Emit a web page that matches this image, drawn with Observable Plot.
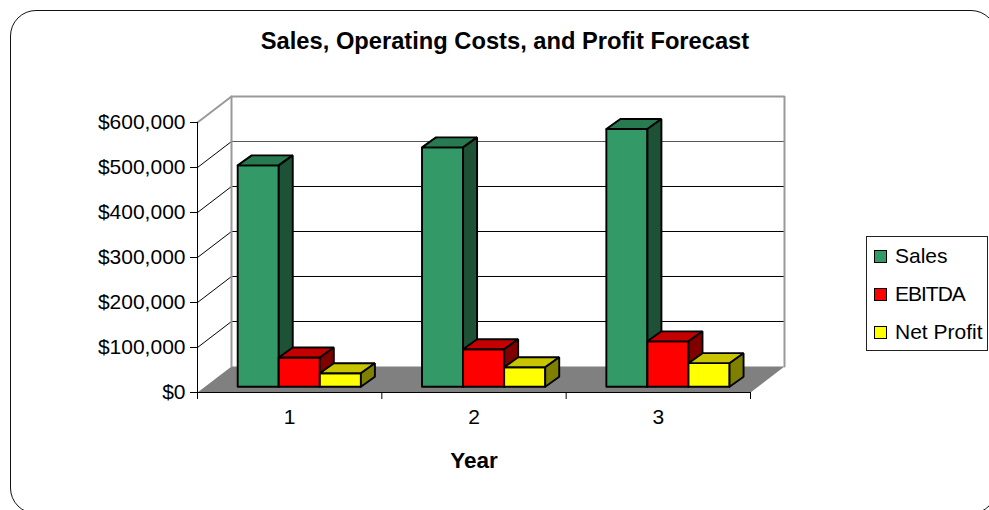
<!DOCTYPE html>
<html>
<head>
<meta charset="utf-8">
<script src="https://cdn.jsdelivr.net/npm/d3@7"></script>
<script src="https://cdn.jsdelivr.net/npm/@observablehq/plot@0.6"></script>
<style>
html,body{margin:0;padding:0;width:989px;height:510px;overflow:hidden;background:#fff;font-family:"Liberation Sans",Arial,sans-serif;color:#000}
#frame{position:absolute;left:10px;top:9.5px;width:987px;height:504px;border:1.7px solid #111;border-radius:26px;box-sizing:border-box}
#title{position:absolute;left:0;top:26px;width:1010px;text-align:center;font-size:23.7px;font-weight:bold;line-height:30px}
#legend{position:absolute;left:866px;top:236px;width:122px;height:115px;border:1px solid #222;box-sizing:border-box;background:#fff;font-size:21px}
.item{position:absolute;left:7px;height:24px;line-height:24px;white-space:nowrap}
.sw{position:absolute;left:0;top:6px;width:13px;height:13px;border:1.7px solid #000;box-sizing:border-box}
.lb{position:absolute;left:21px;top:0}
#chart{position:absolute;left:0;top:0}
</style>
</head>
<body>
<div id="frame"></div>
<div id="title"></div>
<div id="chart"></div>
<div id="legend"></div>
<script>
const titleText = "Sales, Operating Costs, and Profit Forecast";
const xTitle = "Year";
const years = [1, 2, 3];
const seriesNames = ["Sales", "EBITDA", "Net Profit"];
const sales = [492000, 532000, 573000];
const ebitda = [65000, 83500, 101000];
const netProfit = [30000, 43500, 52500];
const yTicks = [0, 100000, 200000, 300000, 400000, 500000, 600000];
const frontColors = ["#339966", "#ff0000", "#ffff00"];
const topColors = ["#287a51", "#c40000", "#c8c400"];
const sideColors = ["#1d5236", "#800000", "#808000"];

// Oblique depth of the chart box and of each bar, expressed in data units
const boxDepthX = 34 / 184.33, boxDepthY = 57800;
const barDepthX = 14 / 184.33, barDepthY = 22200;
const barStart = 0.218, barWidth = 0.2228, barBase = 12700;
const yMax = 600000, nCat = years.length;

const seriesValues = [sales, ebitda, netProfit];
const closed = (pts) => [...pts, pts[0]];
const poly = (pts, fill, stroke, strokeWidth) => Plot.line(closed(pts), {x: "0", y: "1", fill, stroke, strokeWidth, strokeLinejoin: "miter"});

const barMarks = years.flatMap((yr, i) =>
  seriesValues.flatMap((vals, s) => {
    const x0 = i + barStart + s * barWidth, x1 = x0 + barWidth;
    const y0 = barBase, y1 = barBase + vals[i];
    const dx = barDepthX, dy = barDepthY;
    return [
      poly([[x0, y0], [x1, y0], [x1, y1], [x0, y1]], frontColors[s], "#000", 1.9),
      poly([[x0, y1], [x1, y1], [x1 + dx, y1 + dy], [x0 + dx, y1 + dy]], topColors[s], "#000", 1.9),
      poly([[x1, y0], [x1 + dx, y0 + dy], [x1 + dx, y1 + dy], [x1, y1]], sideColors[s], "#000", 1.9)
    ];
  })
);

const chart = Plot.plot({
  width: 989,
  height: 510,
  marginLeft: 197,
  marginRight: 239,
  marginTop: 122,
  marginBottom: 118,
  style: {background: "none", fontFamily: "Liberation Sans, Arial, sans-serif", overflow: "visible"},
  x: {type: "linear", domain: [0, nCat]},
  y: {type: "linear", domain: [0, yMax]},
  marks: [
    // floor
    poly([[0, 0], [nCat, 0], [nCat + boxDepthX, boxDepthY], [boxDepthX, boxDepthY]], "#808080", "none", 0),
    // back wall gridlines
    Plot.ruleY(yTicks.slice(1, -1), {y: (d) => d + boxDepthY, x1: () => boxDepthX, x2: () => nCat + boxDepthX, stroke: (d) => d === 500000 ? "#555" : "#000", strokeWidth: 1}),
    // left wall gridlines
    Plot.link(yTicks.slice(1, -1), {x1: () => 0, y1: (d) => d, x2: () => boxDepthX, y2: (d) => d + boxDepthY, stroke: "#000", strokeWidth: 1}),
    // wall outlines
    Plot.line([[0, yMax], [boxDepthX, yMax + boxDepthY], [nCat + boxDepthX, yMax + boxDepthY], [nCat + boxDepthX, boxDepthY]], {x: "0", y: "1", stroke: "#999", strokeWidth: 2, strokeLinejoin: "miter"}),
    Plot.line([[boxDepthX, yMax + boxDepthY], [boxDepthX, boxDepthY]], {x: "0", y: "1", stroke: "#999", strokeWidth: 2}),
    // front axes
    Plot.ruleX([0], {y1: () => 0, y2: () => yMax, stroke: "#000", strokeWidth: 1}),
    Plot.ruleY([0], {x1: () => 0, x2: () => nCat, stroke: "#000", strokeWidth: 1}),
    ...barMarks,
    Plot.axisY({ticks: yTicks, tickFormat: d3.format("$,"), tickSize: 7, tickPadding: 5, label: null, fontSize: 21, stroke: "#000", fill: "#000"}),
    Plot.axisX({ticks: d3.range(nCat + 1), tickFormat: () => "", tickSize: 7, label: null, stroke: "#000"}),
    Plot.axisX({ticks: years.map((y) => y - 0.5), tickFormat: (d) => String(d + 0.5), tickSize: 0, tickPadding: 17, label: null, fontSize: 21, fill: "#000"}),
    Plot.text([xTitle], {frameAnchor: "bottom", dy: 75, text: (d) => d, fontSize: 22.5, fontWeight: "bold", fill: "#000"})
  ]
});
document.getElementById("chart").appendChild(chart);

document.getElementById("title").textContent = titleText;
const legend = document.getElementById("legend");
const legendTops = [7, 45, 83];
seriesNames.forEach((name, s) => {
  const it = document.createElement("div");
  it.className = "item";
  it.style.top = legendTops[s] + "px";
  const sw = document.createElement("div");
  sw.className = "sw";
  sw.style.background = frontColors[s];
  const lb = document.createElement("div");
  lb.className = "lb";
  lb.textContent = name;
  if (name === "EBITDA") lb.style.letterSpacing = "-1px";
  it.append(sw, lb);
  legend.append(it);
});
</script>
</body>
</html>
